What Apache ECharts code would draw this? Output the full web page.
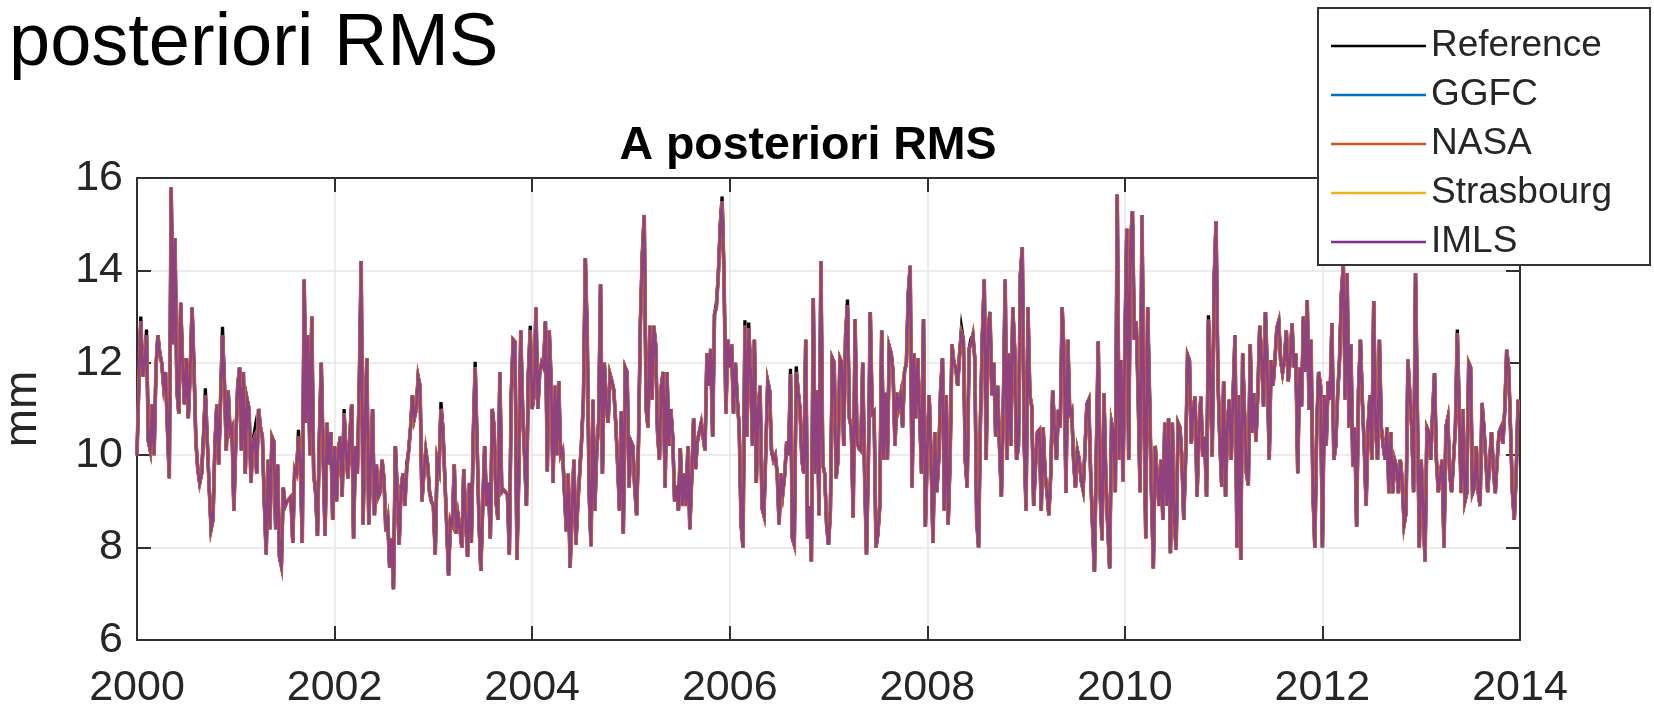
<!DOCTYPE html>
<html>
<head>
<meta charset="utf-8">
<title>A posteriori RMS</title>
<script src="https://cdn.jsdelivr.net/npm/echarts@6/dist/echarts.min.js"></script>
<style>
  html, body { margin: 0; padding: 0; background: #ffffff; }
  #chart { width: 1654px; height: 707px; }
</style>
</head>
<body>
<div id="chart"></div>
<script>
// Weekly a posteriori RMS (mm), one array per year, 52 weekly values each.
const rms2000 = [10.0, 11.6, 12.9, 11.7, 12.0, 12.6, 10.3, 10.1, 11.1, 10.0,
  11.9, 12.6, 12.2, 12.0, 11.5, 11.8, 10.6, 9.5, 15.8, 12.4,
  14.7, 11.4, 10.9, 13.3, 12.0, 11.1, 12.1, 10.8, 11.8, 13.2,
  11.9, 10.3, 9.7, 9.4, 9.6, 10.4, 11.3, 10.3, 9.3, 8.4,
  8.6, 10.2, 11.1, 9.8, 11.2, 12.6, 11.6, 10.1, 11.4, 10.5,
  10.6, 8.8];
const rms2001 = [10.3, 11.5, 11.9, 10.1, 11.8, 9.6, 11.2, 11.0, 9.4, 10.3,
  10.4, 9.6, 11.0, 10.6, 10.4, 9.0, 7.85, 9.9, 8.4, 10.4,
  10.3, 8.4, 9.8, 7.8, 7.6, 9.3, 8.9, 9.0, 9.0, 9.1,
  8.1, 9.7, 9.6, 10.4, 9.8, 8.1, 13.8, 10.7, 12.6, 10.0,
  13.0, 9.6, 9.2, 8.25, 10.4, 12.0, 10.0, 8.25, 10.7, 9.8,
  10.5, 8.6];
const rms2002 = [10.2, 9.0, 10.1, 10.4, 9.1, 10.9, 10.1, 9.5, 10.4, 11.1,
  8.2, 10.2, 9.6, 11.5, 14.2, 8.5, 10.7, 12.1, 8.5, 9.8,
  11.0, 8.7, 9.8, 9.1, 9.2, 9.9, 9.5, 8.35, 8.6, 7.56,
  8.2, 7.1, 10.2, 9.2, 8.06, 9.3, 9.6, 8.9, 9.7, 10.1,
  10.6, 11.3, 10.8, 11.0, 11.7, 11.5, 9.0, 9.6, 10.1, 9.8,
  9.2, 9.0];
const rms2003 = [8.9, 7.85, 9.9, 9.7, 11.0, 10.6, 10.6, 8.5, 7.4, 8.6,
  8.5, 9.8, 8.3, 8.7, 8.4, 8.0, 9.7, 8.6, 7.8, 9.4,
  8.1, 10.4, 11.9, 10.3, 8.6, 7.5, 8.9, 10.2, 8.9, 9.4,
  8.2, 11.0, 10.6, 9.0, 8.6, 11.8, 9.2, 9.25, 9.2, 9.15,
  7.85, 11.3, 12.5, 12.45, 7.74, 9.6, 12.7, 11.0, 10.0, 8.9,
  11.75, 12.7];
const rms2004 = [11.0, 11.3, 13.2, 11.0, 11.8, 12.0, 11.9, 12.9, 9.65, 12.7,
  11.6, 9.4, 11.5, 10.0, 11.6, 10.0, 10.1, 9.2, 8.35, 9.6,
  7.56, 8.9, 9.9, 8.06, 8.9, 9.6, 10.3, 11.2, 14.27, 12.6,
  9.2, 8.03, 11.2, 8.8, 10.1, 10.7, 13.7, 9.6, 12.0, 11.1,
  10.7, 11.75, 11.6, 11.4, 10.7, 9.8, 8.8, 10.95, 8.3, 11.9,
  11.8, 9.3];
const rms2005 = [10.3, 10.2, 9.3, 8.7, 10.3, 12.9, 14.35, 15.2, 11.0, 10.6,
  12.8, 11.2, 12.8, 12.4, 10.5, 9.9, 11.5, 11.8, 9.3, 11.8,
  10.2, 11.0, 10.4, 9.0, 9.35, 8.8, 10.15, 8.9, 9.6, 8.9,
  10.2, 8.4, 9.5, 10.8, 9.7, 10.3, 10.5, 10.7, 10.7, 10.1,
  12.2, 11.5, 12.3, 10.4, 13.05, 13.2, 13.9, 14.9, 15.5, 13.9,
  10.9, 12.5];
const rms2006 = [11.9, 12.4, 10.9, 12.0, 11.2, 10.6, 8.5, 8.0, 12.8, 10.4,
  12.75, 11.8, 10.2, 12.5, 9.4, 11.0, 11.5, 8.86, 8.7, 10.1,
  11.6, 11.4, 10.1, 9.9, 10.0, 9.6, 8.5, 9.6, 9.2, 9.6,
  10.3, 10.0, 11.75, 8.2, 8.06, 11.8, 11.4, 11.0, 9.9, 9.6,
  12.5, 8.2, 8.9, 7.7, 13.4, 9.6, 11.4, 8.7, 14.2, 9.8,
  9.6, 8.5];
const rms2007 = [8.06, 8.8, 12.1, 12.0, 9.5, 9.9, 12.1, 12.0, 10.2, 12.6,
  13.25, 10.8, 10.6, 8.65, 12.95, 10.3, 10.15, 10.1, 12.0, 9.6,
  7.85, 9.9, 13.1, 10.9, 10.95, 8.0, 8.3, 8.9, 12.7, 9.9,
  11.35, 9.9, 12.35, 12.2, 11.8, 10.2, 11.35, 11.05, 11.3, 10.6,
  11.8, 12.0, 13.5, 14.1, 9.3, 12.2, 10.8, 12.1, 10.85, 9.6,
  12.95, 8.45];
const rms2008 = [10.1, 11.3, 9.9, 8.1, 10.5, 9.2, 9.9, 11.4, 12.1, 8.8,
  11.3, 8.5, 9.9, 12.4, 12.0, 11.9, 11.5, 12.2, 12.65, 12.5,
  9.9, 9.3, 12.3, 12.4, 12.6, 12.1, 8.6, 8.0, 10.8, 12.6,
  13.8, 9.9, 12.7, 13.1, 11.3, 12.0, 10.4, 11.5, 10.2, 9.1,
  11.0, 13.8, 9.9, 12.2, 10.2, 13.2, 12.3, 9.9, 10.2, 13.9,
  14.5, 10.3];
const rms2009 = [8.8, 13.2, 11.3, 11.05, 8.9, 9.8, 10.5, 10.55, 8.8, 10.6,
  9.6, 9.2, 8.7, 9.6, 11.4, 10.6, 9.9, 10.98, 10.6, 13.2,
  12.2, 9.18, 12.5, 10.9, 10.98, 9.9, 9.3, 10.1, 9.9, 9.45,
  9.25, 10.1, 11.1, 11.2, 9.6, 8.45, 7.48, 10.1, 12.46, 9.18,
  8.16, 11.34, 9.5, 8.45, 7.55, 10.7, 10.5, 9.2, 15.64, 9.9,
  12.06, 9.43];
const rms2010 = [12.35, 14.9, 9.9, 14.6, 15.28, 12.5, 12.9, 11.3, 9.2, 15.2,
  11.3, 8.2, 13.2, 11.3, 9.2, 7.55, 10.2, 10.2, 8.9, 9.9,
  8.6, 10.7, 8.9, 10.8, 7.88, 10.7, 8.6, 7.95, 10.7, 10.6,
  9.95, 8.6, 9.95, 12.17, 12.06, 10.25, 11.0, 11.27, 9.1, 10.5,
  11.27, 9.97, 10.4, 9.1, 12.93, 11.7, 9.97, 13.8, 15.06, 11.65,
  10.3, 9.32];
const rms2011 = [11.6, 9.1, 10.7, 11.2, 9.9, 11.34, 12.6, 8.0, 11.3, 7.73,
  12.2, 10.9, 9.61, 9.35, 12.4, 10.48, 11.34, 10.3, 11.34, 12.8,
  12.1, 11.05, 13.1, 11.8, 9.9, 12.06, 11.5, 12.06, 12.75, 12.9,
  12.06, 11.78, 12.06, 12.7, 11.6, 12.06, 12.85, 11.9, 12.2, 9.61,
  11.9, 11.05, 13.0, 11.8, 13.36, 10.98, 12.5, 9.2, 8.0, 10.6,
  11.8, 11.5];
const rms2012 = [8.0, 11.3, 10.2, 11.6, 11.2, 12.86, 9.9, 10.2, 11.3, 12.06,
  13.5, 14.09, 11.2, 13.94, 10.6, 12.4, 9.75, 10.6, 8.45, 11.4,
  12.5, 11.2, 10.2, 8.9, 10.6, 11.3, 9.9, 13.33, 10.6, 9.9,
  12.5, 10.6, 10.2, 9.9, 10.6, 9.18, 10.5, 9.18, 9.9, 9.75,
  9.18, 9.9, 9.45, 8.5, 8.75, 12.07, 12.07, 10.6, 9.2, 13.94,
  10.9, 8.0];
const rms2013 = [9.9, 8.9, 7.7, 10.6, 10.5, 9.9, 10.9, 11.78, 9.9, 9.2,
  9.2, 9.9, 8.0, 10.6, 10.8, 9.6, 9.2, 9.9, 10.6, 12.64,
  11.0, 9.18, 11.0, 9.0, 9.18, 12.0, 11.9, 9.18, 9.3, 10.2,
  9.2, 8.9, 11.13, 10.6, 9.9, 9.2, 9.18, 10.5, 9.7, 9.18,
  9.9, 10.5, 10.6, 10.25, 11.0, 12.28, 11.9, 10.6, 9.2, 8.6,
  9.6, 11.2];

// Weeks where the Reference solution peaks slightly above the loading solutions:
// [year, week, Reference rms]
const referencePeaks = [
  [2000, 2, 13.0], [2000, 5, 12.72], [2000, 36, 11.45], [2000, 45, 12.78],
  [2001, 10, 10.55], [2001, 33, 10.55], [2002, 5, 11.0], [2002, 38, 9.82],
  [2003, 4, 11.15], [2003, 22, 12.02], [2003, 51, 12.8], [2005, 45, 13.3],
  [2005, 47, 15.02], [2005, 48, 15.6], [2006, 8, 12.92], [2006, 10, 12.87],
  [2006, 32, 11.87], [2006, 35, 11.92], [2007, 10, 13.37], [2008, 18, 12.77],
  [2008, 23, 12.52], [2010, 44, 13.03], [2012, 11, 14.17], [2013, 19, 12.72]
];

const firstYear = 2000;
const weeksPerYear = 52;
const yearlyRms = [rms2000, rms2001, rms2002, rms2003, rms2004, rms2005, rms2006,
  rms2007, rms2008, rms2009, rms2010, rms2011, rms2012, rms2013];

// Solutions compared (legend order) and their MATLAB-style line colours.
const solutionNames = ['Reference', 'GGFC', 'NASA', 'Strasbourg', 'IMLS'];
const solutionColors = ['#000000', '#0072BD', '#D95319', '#EDB120', '#7E2F8E'];

const xTicks = { min: 2000, max: 2014, step: 2 };
const yTicks = { min: 6, max: 16, step: 2 };

// [decimal year, rms] pairs
const rmsSeries = [];
yearlyRms.forEach((vals, yi) => {
  vals.forEach((v, k) => rmsSeries.push([firstYear + yi + k / weeksPerYear, v]));
});
const referenceSeries = rmsSeries.map(p => p.slice());
referencePeaks.forEach(([year, week, v]) => {
  referenceSeries[(year - firstYear) * weeksPerYear + week][1] = v;
});

const FONT = '"Liberation Sans", Arial, Helvetica, sans-serif';
const AXIS_COLOR = '#303030';
const TEXT_COLOR = '#262626';
const GRID_COLOR = '#e6e6e6';

const chart = echarts.init(document.getElementById('chart'), null, { renderer: 'canvas' });

// NASA is drawn a little wider so its edges tint the IMLS line drawn on top
const lineWidths = [3.3, 3.3, 3.7, 2.8, 2.8];
const lineOpacity = [1, 1, 1, 1, 0.85];
const series = solutionNames.map((name, i) => ({
  name,
  type: 'line',
  data: i === 0 ? referenceSeries : rmsSeries,
  showSymbol: false,
  symbol: 'none',
  sampling: null,
  silent: true,
  z: 2 + i * 0.01,
  lineStyle: { color: solutionColors[i], width: lineWidths[i], opacity: lineOpacity[i], join: 'miter' },
  itemStyle: { color: solutionColors[i] }
}));

const baseXAxis = {
  type: 'value',
  min: xTicks.min, max: xTicks.max, interval: xTicks.step,
  axisLine: { show: true, onZero: false, lineStyle: { color: AXIS_COLOR, width: 2 } },
  axisTick: { show: true, inside: true, length: 14, lineStyle: { color: AXIS_COLOR, width: 2 } }
};
const baseYAxis = {
  type: 'value',
  min: yTicks.min, max: yTicks.max, interval: yTicks.step,
  axisLine: { show: true, onZero: false, lineStyle: { color: AXIS_COLOR, width: 2 } },
  axisTick: { show: true, inside: true, length: 14, lineStyle: { color: AXIS_COLOR, width: 2 } }
};

chart.setOption({
  animation: false,
  backgroundColor: '#ffffff',
  grid: { left: 137, right: 134, top: 178, bottom: 67, containLabel: false, outerBoundsMode: 'none' },
  graphic: [
    {
      type: 'text', left: 9, top: 8, silent: true,
      style: { text: 'posteriori RMS', font: '74px ' + FONT, fill: '#000000' }
    },
    {
      type: 'text', x: 808, y: 146, silent: true,
      style: { text: 'A posteriori RMS', font: 'bold 46.5px ' + FONT, fill: '#000000',
        textAlign: 'center', textVerticalAlign: 'middle' }
    }
  ],
  legend: {
    data: solutionNames,
    orient: 'vertical',
    right: 4, top: 8,
    padding: [18, 38, 3, 13],
    itemWidth: 95, itemHeight: 2.5, itemGap: 9,
    icon: 'rect',
    selectedMode: false,
    backgroundColor: '#ffffff',
    borderColor: '#333333', borderWidth: 2, borderRadius: 0,
    textStyle: { fontSize: 37, fontFamily: FONT, color: TEXT_COLOR, lineHeight: 40 },
    z: 10
  },
  xAxis: [
    Object.assign({}, baseXAxis, {
      position: 'bottom',
      axisLabel: { show: true, fontSize: 43, fontFamily: FONT, color: TEXT_COLOR, margin: 27,
        showMinLabel: true, showMaxLabel: true, formatter: v => String(v) },
      splitLine: { show: true, lineStyle: { color: GRID_COLOR, width: 1.5 } }
    }),
    Object.assign({}, baseXAxis, {
      position: 'top',
      axisLabel: { show: false },
      splitLine: { show: false }
    })
  ],
  yAxis: [
    Object.assign({}, baseYAxis, {
      position: 'left',
      name: 'mm', nameLocation: 'middle', nameGap: 91, nameRotate: 90,
      nameTextStyle: { fontSize: 46, fontFamily: FONT, color: TEXT_COLOR },
      axisLabel: { show: true, fontSize: 43, fontFamily: FONT, color: TEXT_COLOR, margin: 14,
        showMinLabel: true, showMaxLabel: true },
      splitLine: { show: true, lineStyle: { color: GRID_COLOR, width: 1.5 } }
    }),
    Object.assign({}, baseYAxis, {
      position: 'right',
      axisLabel: { show: false },
      splitLine: { show: false }
    })
  ],
  series
});
</script>
</body>
</html>
